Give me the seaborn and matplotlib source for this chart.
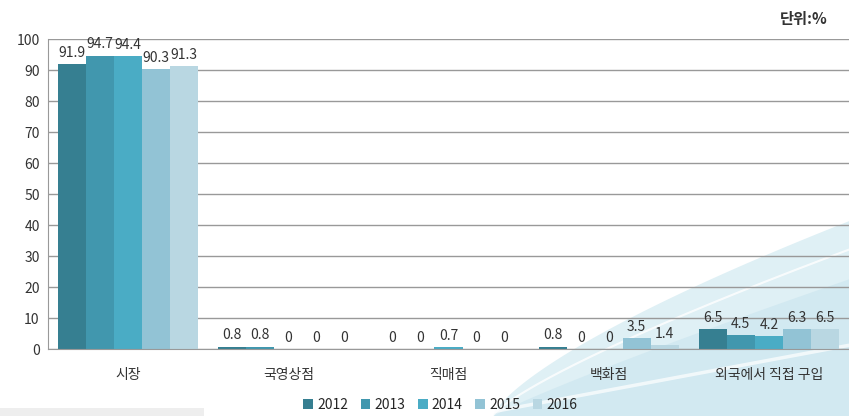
import numpy as np
import pandas as pd
import seaborn as sns
import matplotlib.pyplot as plt

# data
categories = ['시장', '국영상점', '직매점', '백화점', '외국에서 직접 구입']
years = ['2012', '2013', '2014', '2015', '2016']
share_2012 = [91.9, 0.8, 0, 0.8, 6.5]
share_2013 = [94.7, 0.8, 0, 0, 4.5]
share_2014 = [94.4, 0, 0.7, 0, 4.2]
share_2015 = [90.3, 0, 0, 3.5, 6.3]
share_2016 = [91.3, 0, 0, 1.4, 6.5]
colors = ['#367f91', '#4197ae', '#4aacc5', '#92c3d5', '#b9d7e2']

series = [share_2012, share_2013, share_2014, share_2015, share_2016]
df = pd.DataFrame([
    {'place': c, 'year': y, 'share': v}
    for y, vals in zip(years, series)
    for c, v in zip(categories, vals)
])

sns.set_style('white')
plt.rcParams['font.family'] = ['Noto Sans CJK KR', 'DejaVu Sans']

fig = plt.figure(figsize=(8.49, 4.16), dpi=100)

# decorative wave in the background (lower right)
bg = fig.add_axes([0, 0, 1, 1], zorder=0)
bg.set_xlim(0, 1)
bg.set_ylim(0, 1)
bg.axis('off')
xs = np.linspace(0.58, 1.0, 300)
t = (xs - 0.58) / 0.42
bg.fill_between(xs, 0, 0.47 * t ** 0.72, color='#dff0f5', lw=0)
bg.fill_between(xs, 0, 0.33 * t ** 0.9, color='#d2e9f1', lw=0)
bg.plot(xs, 0.40 * t ** 0.8, color='white', lw=1.5, alpha=0.8)
bg.plot(xs, 0.16 * t ** 1.0 + 0.01, color='white', lw=2.5, alpha=0.7)
bg.fill_between([0, 0.24], 0, 0.02, color='#eeeeee', lw=0)

ax = fig.add_axes([0.0565, 0.161, 0.9435, 0.745], zorder=1)
ax.patch.set_alpha(0)

sns.barplot(data=df, x='place', y='share', hue='year', palette=colors,
            width=0.875, saturation=1, linewidth=0, ax=ax, legend=True)

for cont in ax.containers:
    ax.bar_label(cont, labels=[f'{v:g}' for v in cont.datavalues],
                 padding=3, fontsize=10, color='#333333')

ax.set_ylim(0, 100)
ax.set_yticks(range(0, 101, 10))
ax.set_xlim(-0.5, 4.5)
ax.yaxis.grid(True, color='#999999', lw=1)
ax.set_axisbelow(True)
for s in ['top', 'right']:
    ax.spines[s].set_visible(False)
for s in ['left', 'bottom']:
    ax.spines[s].set_color('#999999')
ax.tick_params(length=0, labelsize=10, colors='#333333', pad=6)
ax.tick_params(axis='x', pad=14)
ax.set_xlabel('')
ax.set_ylabel('')

ax.legend(loc='center', bbox_to_anchor=(0.49, -0.18), ncol=5, frameon=False,
          fontsize=10, handlelength=0.7, handleheight=0.7, handletextpad=0.3,
          columnspacing=0.9, borderpad=0.1)

fig.text(0.975, 0.955, '단위:%', ha='right', va='center', fontsize=11,
         fontweight='bold', color='#333333')

fig.savefig('out.png', dpi=100)
